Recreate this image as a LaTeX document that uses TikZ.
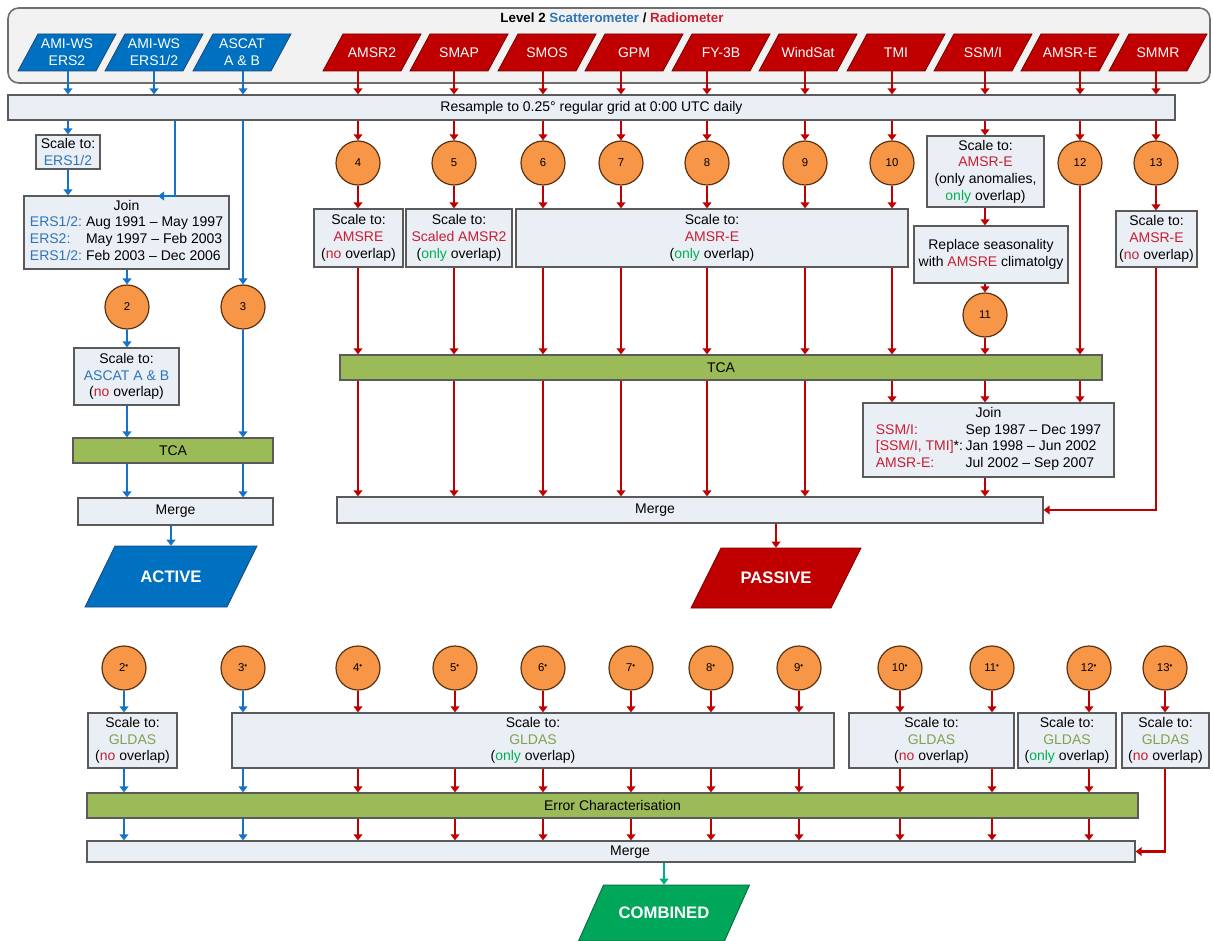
\documentclass[tikz,border=0pt]{standalone}
\usepackage{fontspec}
\setmainfont{Liberation Sans}
\usetikzlibrary{arrows.meta}
\definecolor{pblue}{RGB}{0,112,192}
\definecolor{pbluedark}{RGB}{30,70,120}
\definecolor{pred}{RGB}{192,0,0}
\definecolor{preddark}{RGB}{120,0,0}
\definecolor{ablue}{RGB}{20,115,200}
\definecolor{tblue}{RGB}{46,117,182}
\definecolor{tred}{RGB}{200,30,50}
\definecolor{tgreen}{RGB}{0,176,80}
\definecolor{tgldas}{RGB}{130,160,80}
\definecolor{boxfill}{RGB}{234,239,246}
\definecolor{boxdraw}{RGB}{90,90,90}
\definecolor{circfill}{RGB}{247,150,70}
\definecolor{circdraw}{RGB}{90,50,20}
\definecolor{tcafill}{RGB}{155,187,89}
\definecolor{combfill}{RGB}{0,166,90}
\definecolor{combarrow}{RGB}{0,176,130}
\definecolor{contfill}{RGB}{242,242,242}
\definecolor{contdraw}{RGB}{110,110,110}
\newcommand{\boxfont}{\fontsize{10.5}{12.5}\selectfont}
\newcommand{\parafont}{\fontsize{10.5}{12.5}\selectfont}
\newcommand{\circfont}{\fontsize{8.5}{9}\selectfont}
\newcommand{\bigfont}{\fontsize{12.5}{15}\selectfont\bfseries}
\newcommand{\sdot}{\textsuperscript{\textbullet}}
\newcommand{\mkbox}[7]{\node[#6, minimum width={(#4-#2)*0.75pt}, minimum height={(#5-#3)*0.75pt}] (#1) at ({(#2+#4)/2},{(#3+#5)/2}) {#7};}
\newcommand{\mkpara}[8]{%
  \path[#7] ({#2-#4-#6},{#3+#5}) -- ({#2+#4-#6},{#3+#5}) -- ({#2+#4+#6},{#3-#5}) -- ({#2-#4+#6},{#3-#5}) -- cycle;
  \node[paratext, minimum width={2*#4*0.75pt}, minimum height={2*#5*0.75pt}] (#1) at (#2,#3) {#8};}
\tikzset{
  box/.style={draw=boxdraw, fill=boxfill, line width=0.9pt, align=center, inner sep=0pt, font=\boxfont},
  tcabox/.style={draw=boxdraw, fill=tcafill, line width=0.9pt, inner sep=0pt, font=\boxfont},
  container/.style={draw=contdraw, fill=contfill, rounded corners=8pt, line width=1.2pt, inner sep=0pt},
  circ/.style={circle, draw=circdraw, fill=circfill, line width=0.9pt, minimum size=33pt, inner sep=0pt, font=\circfont},
  paratext/.style={inner sep=0pt, align=center, text=white, font=\parafont},
  bigtext/.style={inner sep=0pt, align=center, text=white, font=\bigfont},
  bluepara/.style={fill=pblue, draw=pbluedark, line width=0.6pt},
  redpara/.style={fill=pred, draw=preddark, line width=0.6pt},
  combpara/.style={fill=combfill, draw=combfill!60!black, line width=0.6pt},
  barr/.style={draw=ablue, line width=1.8pt, -{Triangle[width=6.5pt,length=4.5pt]}},
  rarr/.style={draw=pred, line width=1.8pt, -{Triangle[width=6.5pt,length=4.5pt]}},
  garr/.style={draw=combarrow, line width=1.8pt, -{Triangle[width=6.5pt,length=4.5pt]}},
  lbl/.style={inner sep=0pt, font=\boxfont}
}
\begin{document}
\begin{tikzpicture}[x=0.75pt, y=-0.75pt]
\useasboundingbox (0,0) rectangle (1213,941);
% ---------- top container ----------
\mkbox{cont}{8}{8}{1210}{83}{container}{}
\node[inner sep=0pt, font=\fontsize{10}{12}\selectfont\bfseries] (title) at (612,18) {Level 2 \textcolor{tblue}{Scatterometer} / \textcolor{tred}{Radiometer}};
\mkpara{pA}{67}{52.5}{39}{18.5}{10}{bluepara}{AMI-WS\\ERS2}
\mkpara{pB}{154}{52.5}{39}{18.5}{10}{bluepara}{AMI-WS\\ERS1/2}
\mkpara{pC}{242}{52.5}{39}{18.5}{10}{bluepara}{ASCAT\\A \& B}
\mkpara{r1}{372}{52.5}{39}{18.5}{10}{redpara}{AMSR2}
\mkpara{r2}{459}{52.5}{39}{18.5}{10}{redpara}{SMAP}
\mkpara{r3}{547}{52.5}{39}{18.5}{10}{redpara}{SMOS}
\mkpara{r4}{634}{52.5}{39}{18.5}{10}{redpara}{GPM}
\mkpara{r5}{721}{52.5}{39}{18.5}{10}{redpara}{FY-3B}
\mkpara{r6}{808}{52.5}{39}{18.5}{10}{redpara}{WindSat}
\mkpara{r7}{896}{52.5}{39}{18.5}{10}{redpara}{TMI}
\mkpara{r8}{983}{52.5}{39}{18.5}{10}{redpara}{SSM/I}
\mkpara{r9}{1070}{52.5}{39}{18.5}{10}{redpara}{AMSR-E}
\mkpara{r10}{1158}{52.5}{39}{18.5}{10}{redpara}{SMMR}
% ---------- resample bar ----------
\mkbox{bar}{8}{95}{1175}{120}{box}{Resample to 0.25° regular grid at 0:00 UTC daily}
% column coordinates
\coordinate (cA) at (68,0);
\coordinate (cB) at (175,0);
\coordinate (cC) at (243,0);
\coordinate (joinin) at (158,196);
% ---------- active branch ----------
\mkbox{sErs}{36}{135}{100}{169}{box}{Scale to:\\\textcolor{tblue}{ERS1/2}}
\mkbox{joinA}{24}{196}{229}{269}{box}{Join\\\begin{tabular}[t]{@{}l@{\hspace{3pt}}l@{}}\textcolor{tblue}{ERS1/2:} & Aug 1991 \textendash{} May 1997\\\textcolor{tblue}{ERS2:} & May 1997 \textendash{} Feb 2003\\\textcolor{tblue}{ERS1/2:} & Feb 2003 \textendash{} Dec 2006\end{tabular}}
\node[circ] (n2) at (127,307) {2};
\node[circ] (n3) at (243,307) {3};
\mkbox{sAscat}{74}{348}{179}{405}{box}{Scale to:\\\textcolor{tblue}{ASCAT A \& B}\\(\textcolor{tred}{no} overlap)}
\mkbox{tcaA}{73}{438}{273}{463}{tcabox}{TCA}
\mkbox{mergeA}{78}{498}{273}{525}{box}{Merge}
\mkpara{active}{171}{576.5}{71}{30.5}{15}{bluepara}{}
\node[bigtext] (activelbl) at (171,577) {ACTIVE};
\draw[barr] (pA.south -| cA) -- (bar.north -| cA);
\draw[barr] (pB.south) -- (bar.north -| pB);
\draw[barr] (pC.south -| cC) -- (bar.north -| cC);
\draw[barr] (bar.south -| cA) -- (sErs.north -| cA);
\draw[barr] (sErs.south -| cA) -- (joinA.north -| cA);
\draw[barr] (bar.south -| cB) |- (joinin);
\draw[barr] (joinA.south -| n2) -- (n2.north);
\draw[barr] (n2.south) -- (sAscat.north -| n2);
\draw[barr] (sAscat.south -| n2) -- (tcaA.north -| n2);
\draw[barr] (bar.south -| n3) -- (n3.north);
\draw[barr] (n3.south) -- (tcaA.north -| n3);
\draw[barr] (tcaA.south -| n2) -- (mergeA.north -| n2);
\draw[barr] (tcaA.south -| n3) -- (mergeA.north -| n3);
\draw[barr] (mergeA.south -| active) -- (active.north);
% ---------- passive branch ----------
\node[circ] (n4) at (358,163) {4};
\node[circ] (n5) at (454,163) {5};
\node[circ] (n6) at (543,163) {6};
\node[circ] (n7) at (621,163) {7};
\node[circ] (n8) at (707,163) {8};
\node[circ] (n9) at (805,163) {9};
\node[circ] (n10) at (892,163) {10};
\node[circ] (n12) at (1080,163) {12};
\node[circ] (n13) at (1156,163) {13};
\mkbox{sAmsre}{314}{209}{403}{267}{box}{Scale to:\\\textcolor{tred}{AMSRE}\\(\textcolor{tred}{no} overlap)}
\mkbox{sScaled}{406}{209}{512}{267}{box}{Scale to:\\\textcolor{tred}{Scaled AMSR2}\\(\textcolor{tgreen}{only} overlap)}
\mkbox{sBig}{516}{209}{908}{267}{box}{Scale to:\\\textcolor{tred}{AMSR-E}\\(\textcolor{tgreen}{only} overlap)}
\mkbox{sSsmi}{927}{136}{1044}{207}{box}{Scale to:\\\textcolor{tred}{AMSR-E}\\(only anomalies,\\\textcolor{tgreen}{only} overlap)}
\mkbox{repl}{914}{226}{1068}{283}{box}{Replace seasonality\\with \textcolor{tred}{AMSRE} climatolgy}
\node[circ] (n11) at (985,315) {11};
\mkbox{sSmmr}{1116}{211}{1197}{267}{box}{Scale to:\\\textcolor{tred}{AMSR-E}\\(\textcolor{tred}{no} overlap)}
\mkbox{tcaP}{340}{355}{1102}{380}{tcabox}{TCA}
\mkbox{joinP}{863}{403}{1114}{477}{box}{Join\\\begin{tabular}[t]{@{}l@{\hspace{2pt}}l@{}}\textcolor{tred}{SSM/I:} & Sep 1987 \textendash{} Dec 1997\\\textcolor{tred}{[SSM/I, TMI]}*: & Jan 1998 \textendash{} Jun 2002\\\textcolor{tred}{AMSR-E:} & Jul 2002 \textendash{} Sep 2007\end{tabular}}
\mkbox{mergeP}{337}{497}{1043}{523}{box}{}
\node[lbl] (mergePlbl) at (655,510) {Merge};
\mkpara{passive}{776}{578}{70}{30}{15}{redpara}{}
\node[bigtext] (passivelbl) at (776,578) {PASSIVE};
% arrows parallelograms -> bar
\draw[rarr] (r1.south -| n4) -- (bar.north -| n4);
\draw[rarr] (r2.south -| n5) -- (bar.north -| n5);
\draw[rarr] (r3.south -| n6) -- (bar.north -| n6);
\draw[rarr] (r4.south -| n7) -- (bar.north -| n7);
\draw[rarr] (r5.south -| n8) -- (bar.north -| n8);
\draw[rarr] (r6.south -| n9) -- (bar.north -| n9);
\draw[rarr] (r7.south -| n10) -- (bar.north -| n10);
\draw[rarr] (r8.south -| n11) -- (bar.north -| n11);
\draw[rarr] (r9.south -| n12) -- (bar.north -| n12);
\draw[rarr] (r10.south -| n13) -- (bar.north -| n13);
% bar -> circles
\foreach \n in {n4,n5,n6,n7,n8,n9,n10,n12,n13}{
  \draw[rarr] (bar.south -| \n) -- (\n.north);
}
\draw[rarr] (bar.south -| n11) -- (sSsmi.north -| n11);
% circles -> scale boxes
\draw[rarr] (n4.south) -- (sAmsre.north -| n4);
\draw[rarr] (n5.south) -- (sScaled.north -| n5);
\foreach \n in {n6,n7,n8,n9,n10}{
  \draw[rarr] (\n.south) -- (sBig.north -| \n);
}
\draw[rarr] (n13.south) -- (sSmmr.north -| n13);
% scale boxes -> TCA
\draw[rarr] (sAmsre.south -| n4) -- (tcaP.north -| n4);
\draw[rarr] (sScaled.south -| n5) -- (tcaP.north -| n5);
\foreach \n in {n6,n7,n8,n9,n10}{
  \draw[rarr] (sBig.south -| \n) -- (tcaP.north -| \n);
}
\draw[rarr] (sSsmi.south -| n11) -- (repl.north -| n11);
\draw[rarr] (repl.south -| n11) -- (n11.north);
\draw[rarr] (n11.south) -- (tcaP.north -| n11);
\draw[rarr] (n12.south) -- (tcaP.north -| n12);
\draw[rarr] (sSmmr.south -| n13) |- (mergeP.east);
% TCA -> merge / join
\foreach \n in {n4,n5,n6,n7,n8,n9}{
  \draw[rarr] (tcaP.south -| \n) -- (mergeP.north -| \n);
}
\foreach \n in {n10,n11,n12}{
  \draw[rarr] (tcaP.south -| \n) -- (joinP.north -| \n);
}
\draw[rarr] (joinP.south -| n11) -- (mergeP.north -| n11);
\draw[rarr] (mergeP.south -| passive) -- (passive.north);
% ---------- combined ----------
\node[circ] (m2) at (124,668) {2\sdot};
\node[circ] (m3) at (243,668) {3\sdot};
\node[circ] (m4) at (358,668) {4\sdot};
\node[circ] (m5) at (455,668) {5\sdot};
\node[circ] (m6) at (543,668) {6\sdot};
\node[circ] (m7) at (631,668) {7\sdot};
\node[circ] (m8) at (711,668) {8\sdot};
\node[circ] (m9) at (799,668) {9\sdot};
\node[circ] (m10) at (900,668) {10\sdot};
\node[circ] (m11) at (992,668) {11\sdot};
\node[circ] (m12) at (1089,668) {12\sdot};
\node[circ] (m13) at (1165,668) {13\sdot};
\mkbox{g2}{88}{713}{177}{768}{box}{Scale to:\\\textcolor{tgldas}{GLDAS}\\(\textcolor{tred}{no} overlap)}
\mkbox{gBig}{232}{713}{834}{768}{box}{Scale to:\\\textcolor{tgldas}{GLDAS}\\(\textcolor{tgreen}{only} overlap)}
\mkbox{g10}{849}{713}{1014}{768}{box}{Scale to:\\\textcolor{tgldas}{GLDAS}\\(\textcolor{tred}{no} overlap)}
\mkbox{g12}{1018}{713}{1116}{768}{box}{Scale to:\\\textcolor{tgldas}{GLDAS}\\(\textcolor{tgreen}{only} overlap)}
\mkbox{g13}{1122}{713}{1209}{768}{box}{Scale to:\\\textcolor{tgldas}{GLDAS}\\(\textcolor{tred}{no} overlap)}
\mkbox{err}{87}{793}{1138}{818}{tcabox}{Error Characterisation}
\mkbox{mergeC}{87}{841}{1135}{862}{box}{}
\node[lbl] (mergeClbl) at (630,852) {Merge};
\mkpara{comb}{664}{913}{73}{28}{12.5}{combpara}{}
\node[bigtext] (comblbl) at (664,913) {COMBINED};
% arrows combined
\draw[barr] (m2.south) -- (g2.north -| m2);
\draw[barr] (g2.south -| m2) -- (err.north -| m2);
\draw[barr] (err.south -| m2) -- (mergeC.north -| m2);
\draw[barr] (m3.south) -- (gBig.north -| m3);
\draw[barr] (gBig.south -| m3) -- (err.north -| m3);
\draw[barr] (err.south -| m3) -- (mergeC.north -| m3);
\foreach \n in {m4,m5,m6,m7,m8,m9}{
  \draw[rarr] (\n.south) -- (gBig.north -| \n);
  \draw[rarr] (gBig.south -| \n) -- (err.north -| \n);
  \draw[rarr] (err.south -| \n) -- (mergeC.north -| \n);
}
\foreach \n in {m10,m11}{
  \draw[rarr] (\n.south) -- (g10.north -| \n);
  \draw[rarr] (g10.south -| \n) -- (err.north -| \n);
  \draw[rarr] (err.south -| \n) -- (mergeC.north -| \n);
}
\draw[rarr] (m12.south) -- (g12.north -| m12);
\draw[rarr] (g12.south -| m12) -- (err.north -| m12);
\draw[rarr] (err.south -| m12) -- (mergeC.north -| m12);
\draw[rarr] (m13.south) -- (g13.north -| m13);
\draw[rarr] (g13.south -| m13) |- (mergeC.east);
\draw[garr] (mergeC.south -| comb) -- (comb.north);
\end{tikzpicture}
\end{document}
